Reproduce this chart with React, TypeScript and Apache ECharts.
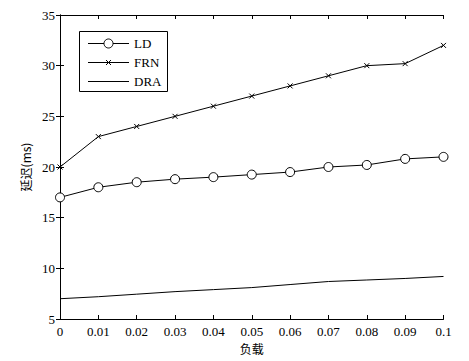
import React, { useEffect, useRef } from "react";
import * as echarts from "echarts";

const loads = [0, 0.01, 0.02, 0.03, 0.04, 0.05, 0.06, 0.07, 0.08, 0.09, 0.1];
const ldValues = [17, 18, 18.5, 18.8, 19, 19.25, 19.5, 20, 20.2, 20.8, 21];
const frnValues = [20, 23, 24, 25, 26, 27, 28, 29, 30, 30.2, 32];
const draValues = [7, 7.2, 7.45, 7.7, 7.9, 8.1, 8.4, 8.7, 8.85, 9.0, 9.2];
const seriesNames = ["LD", "FRN", "DRA"];
const xAxisName = "负载";
const yAxisName = "延迟(ms)";

const FONT = "'Liberation Serif', 'DejaVu Serif', 'Noto Sans CJK SC', serif";
const CJK = "'Noto Sans CJK SC', 'Liberation Serif', serif";

function fmtX(v: number) {
  if (v === 0) return "0";
  return String(Number(v.toFixed(2)));
}

function legendGraphic() {
  const boxX = 79, boxY = 31, boxW = 88, boxH = 60;
  const lx0 = 88, lx1 = 129, mx = 108.5, tx = 134;
  const rows = [43, 62, 81];
  const children: any[] = [
    {
      type: "rect",
      shape: { x: boxX + 0.5, y: boxY + 0.5, width: boxW, height: boxH },
      style: { fill: "#fff", stroke: "#000", lineWidth: 1 },
    },
  ];
  rows.forEach((y, i) => {
    children.push({
      type: "line",
      shape: { x1: lx0, y1: y + 0.5, x2: lx1, y2: y + 0.5 },
      style: { stroke: "#000", lineWidth: 1 },
    });
    children.push({
      type: "text",
      x: tx,
      y: y + 0.5,
      style: {
        text: seriesNames[i],
        fill: "#000",
        font: `13px ${FONT}`,
        verticalAlign: "middle",
        align: "left",
      },
    });
  });
  children.push({
    type: "circle",
    shape: { cx: mx, cy: rows[0] + 0.5, r: 4.5 },
    style: { fill: "#fff", stroke: "#000", lineWidth: 1 },
  });
  const s = 2.5;
  const cy = rows[1] + 0.5;
  children.push({
    type: "line",
    shape: { x1: mx - s, y1: cy - s, x2: mx + s, y2: cy + s },
    style: { stroke: "#000", lineWidth: 1 },
  });
  children.push({
    type: "line",
    shape: { x1: mx - s, y1: cy + s, x2: mx + s, y2: cy - s },
    style: { stroke: "#000", lineWidth: 1 },
  });
  return [{ type: "group", z: 100, children }];
}

export default function App() {
  const ref = useRef<HTMLDivElement>(null);
  useEffect(() => {
    if (!ref.current) return;
    const chart = echarts.init(ref.current, undefined, { renderer: "svg" });
    const pair = (vals: number[]) => loads.map((x, i) => [x, vals[i]]);
    const axisCommon = {
      axisLine: { show: true, lineStyle: { color: "#000", width: 1 } },
      axisTick: { show: true, inside: true, length: 4, lineStyle: { color: "#000" } },
      splitLine: { show: false },
    };
    chart.setOption({
      animation: false,
      backgroundColor: "#fff",
      grid: { left: 60, right: 25.5, top: 15, bottom: 42 },
      legend: { show: false },
      graphic: legendGraphic(),
      xAxis: [
        {
          type: "value",
          min: 0,
          max: 0.1,
          interval: 0.01,
          name: xAxisName,
          nameLocation: "middle",
          nameGap: 20,
          nameTextStyle: { fontFamily: CJK, fontSize: 12, color: "#000" },
          axisLabel: {
            color: "#000",
            fontFamily: FONT,
            fontSize: 13,
            margin: 6,
            formatter: (v: number) => fmtX(v),
          },
          ...axisCommon,
        },
        {
          type: "value",
          position: "top",
          min: 0,
          max: 0.1,
          interval: 0.01,
          axisLabel: { show: false },
          ...axisCommon,
        },
      ],
      yAxis: [
        {
          type: "value",
          min: 5,
          max: 35,
          interval: 5,
          name: yAxisName,
          nameLocation: "middle",
          nameGap: 25,
          nameTextStyle: { fontFamily: CJK, fontSize: 12, color: "#000" },
          axisLabel: { color: "#000", fontFamily: FONT, fontSize: 13, margin: 5 },
          ...axisCommon,
        },
        {
          type: "value",
          position: "right",
          min: 5,
          max: 35,
          interval: 5,
          axisLabel: { show: false },
          ...axisCommon,
        },
      ],
      series: [
        {
          name: seriesNames[0],
          type: "line",
          data: pair(ldValues),
          symbol: "circle",
          symbolSize: 9,
          lineStyle: { color: "#000", width: 1 },
          itemStyle: { color: "#fff", borderColor: "#000", borderWidth: 1 },
        },
        {
          name: seriesNames[1],
          type: "line",
          data: pair(frnValues),
          symbol: "path://M0,0L10,10M10,0L0,10",
          symbolSize: 5,
          lineStyle: { color: "#000", width: 1 },
          itemStyle: { color: "#000", borderColor: "#000", borderWidth: 1 },
        },
        {
          name: seriesNames[2],
          type: "line",
          data: pair(draValues),
          symbol: "none",
          lineStyle: { color: "#000", width: 1 },
          itemStyle: { color: "#000" },
        },
      ],
    });
    return () => chart.dispose();
  }, []);
  return <div ref={ref} style={{ width: 469, height: 361, position: "absolute", left: 0, top: 0 }} />;
}
